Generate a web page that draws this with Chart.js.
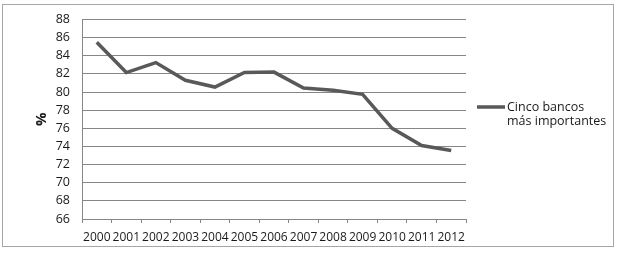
<!DOCTYPE html>
<html>
<head>
<meta charset="utf-8">
<script src="https://cdn.jsdelivr.net/npm/chart.js@4/dist/chart.umd.min.js"></script>
<style>
html,body{margin:0;padding:0;background:#fff;}
#wrap{position:relative;width:620px;height:253px;}
</style>
</head>
<body>
<div id="wrap"><canvas id="c" width="620" height="253"></canvas></div>
<script>
const categories = ['2000','2001','2002','2003','2004','2005','2006','2007','2008','2009','2010','2011','2012'];
const seriesName = ['Cinco bancos', 'más importantes'];
const values = [85.5, 82.15, 83.25, 81.3, 80.55, 82.15, 82.2, 80.45, 80.2, 79.75, 76.0, 74.1, 73.55];
const yMin = 66, yMax = 88, yStep = 2;

const FONT = "'Open Sans', 'Liberation Sans', sans-serif";

const decor = {
  id: 'decor',
  afterDraw(chart) {
    const ctx = chart.ctx;
    ctx.save();
    ctx.strokeStyle = '#a6a6a6';
    ctx.lineWidth = 1;
    ctx.strokeRect(2.5, 4.5, 611, 242);
    const ly = 107;
    ctx.strokeStyle = '#595959';
    ctx.lineWidth = 3.5;
    ctx.beginPath();
    ctx.moveTo(477, ly);
    ctx.lineTo(505, ly);
    ctx.stroke();
    ctx.fillStyle = '#1a1a1a';
    ctx.font = '12.5px ' + FONT;
    ctx.textBaseline = 'middle';
    ctx.textAlign = 'left';
    seriesName.forEach((t, i) => ctx.fillText(t, 507, ly + i * 14));
    ctx.restore();
  }
};

new Chart(document.getElementById('c'), {
  type: 'line',
  data: {
    labels: categories,
    datasets: [{
      label: seriesName.join(' '),
      data: values,
      borderColor: '#595959',
      borderWidth: 3.5,
      pointRadius: 0,
      tension: 0,
      fill: false
    }]
  },
  options: {
    responsive: false,
    animation: false,
    devicePixelRatio: 1,
    layout: { padding: { left: 0, right: 154, top: 16, bottom: 0 } },
    plugins: { legend: { display: false }, tooltip: { enabled: false } },
    scales: {
      x: {
        offset: true,
        afterFit(s) { s.height = 34; },
        grid: { offset: true, drawOnChartArea: false, drawTicks: true, tickLength: 4, color: '#868686' },
        border: { color: '#868686' },
        ticks: { color: '#1a1a1a', font: { family: FONT, size: 12 }, padding: 7, maxRotation: 0, autoSkip: false }
      },
      y: {
        min: yMin, max: yMax,
        afterFit(s) { s.width = 82; },
        ticks: { stepSize: yStep, color: '#1a1a1a', font: { family: FONT, size: 12.5 }, padding: 12 },
        grid: { color: '#868686', drawTicks: false },
        border: { color: '#868686' },
        title: { display: true, text: '%', color: '#1a1a1a', font: { family: FONT, size: 15, weight: 'bold' }, padding: { top: 33, bottom: 0 } }
      }
    }
  },
  plugins: [decor]
});
</script>
</body>
</html>
